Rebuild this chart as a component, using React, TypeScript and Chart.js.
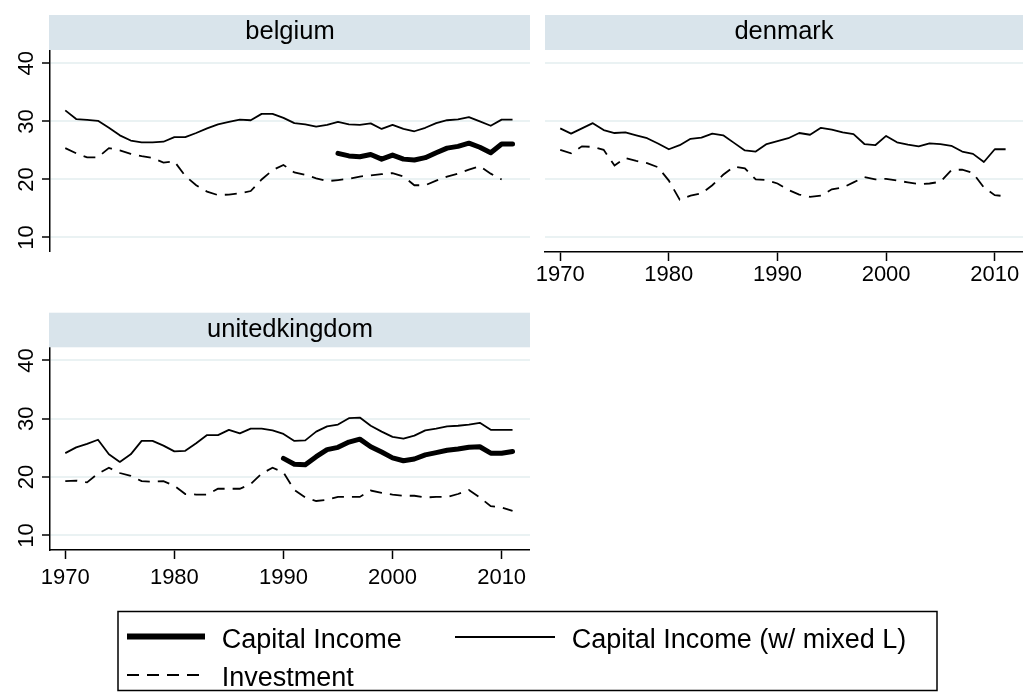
import React, { useEffect, useRef } from "react";
import { Chart, registerables } from "chart.js";

Chart.register(...registerables);

// ---------- data ----------
const years = [
  1970, 1971, 1972, 1973, 1974, 1975, 1976, 1977, 1978, 1979,
  1980, 1981, 1982, 1983, 1984, 1985, 1986, 1987, 1988, 1989,
  1990, 1991, 1992, 1993, 1994, 1995, 1996, 1997, 1998, 1999,
  2000, 2001, 2002, 2003, 2004, 2005, 2006, 2007, 2008, 2009,
  2010, 2011,
];
const yTicks = [10, 20, 30, 40];
const xTicks = [1970, 1980, 1990, 2000, 2010];
const panelNames = ["belgium", "denmark", "unitedkingdom"];
const legendLabels = ["Capital Income", "Capital Income (w/ mixed L)", "Investment"];

const belgiumMixed = [
  31.9, 30.4, 30.25, 30.1, 28.9, 27.6, 26.7, 26.4, 26.4, 26.5,
  27.3, 27.3, 28.0, 28.8, 29.5, 29.9, 30.3, 30.2, 31.3, 31.3,
  30.6, 29.7, 29.5, 29.1, 29.4, 29.9, 29.5, 29.4, 29.65, 28.7,
  29.4, 28.7, 28.3, 28.9, 29.7, 30.2, 30.35, 30.75, 30.0, 29.25,
  30.3, 30.3,
];
const belgiumInvest = [
  25.4, 24.5, 23.8, 23.8, 25.4, 25.0, 24.4, 24.0, 23.7, 22.9,
  23.1, 20.6, 19.0, 17.9, 17.3, 17.4, 17.6, 18.0, 20.0, 21.6,
  22.5, 21.2, 20.8, 20.2, 19.7, 19.9, 20.1, 20.5, 20.7, 20.9,
  21.1, 20.5, 19.0, 19.0, 19.8, 20.5, 21.0, 21.7, 22.3, 21.0,
  20.0,
];
const belgiumCapitalStart = 1995;
const belgiumCapital = [
  24.5, 24.05, 23.9, 24.3, 23.5, 24.2, 23.5, 23.35, 23.75, 24.6,
  25.4, 25.7, 26.25, 25.55, 24.6, 26.1, 26.1,
];

const denmarkMixed = [
  28.8, 27.9, 28.8, 29.7, 28.5, 28.0, 28.1, 27.6, 27.1, 26.2,
  25.2, 25.9, 27.0, 27.2, 27.9, 27.6, 26.3, 25.0, 24.8, 26.1,
  26.6, 27.1, 28.0, 27.7, 28.9, 28.6, 28.1, 27.8, 26.1, 25.9,
  27.5, 26.4, 26.0, 25.7, 26.2, 26.1, 25.8, 24.8, 24.4, 23.0,
  25.2, 25.2,
];
const denmarkInvest = [
  25.1, 24.5, 25.7, 25.6, 25.1, 22.4, 23.7, 23.2, 22.8, 22.1,
  19.8, 16.5, 17.2, 17.6, 19.0, 20.8, 22.2, 21.9, 20.0, 19.9,
  19.3, 18.2, 17.4, 17.0, 17.2, 18.3, 18.6, 19.5, 20.4, 20.0,
  20.1, 19.8, 19.5, 19.2, 19.3, 19.6, 21.6, 21.7, 21.1, 18.6,
  17.3, 17.1,
];

const ukMixed = [
  24.1, 25.1, 25.7, 26.4, 23.9, 22.6, 23.9, 26.2, 26.2, 25.4,
  24.4, 24.5, 25.8, 27.2, 27.2, 28.1, 27.5, 28.3, 28.3, 28.0,
  27.4, 26.2, 26.3, 27.8, 28.7, 29.0, 30.1, 30.2, 28.8, 27.8,
  26.9, 26.6, 27.1, 28.0, 28.3, 28.7, 28.8, 29.0, 29.3, 28.1,
  28.1, 28.1,
];
const ukInvest = [
  19.3, 19.4, 19.1, 20.6, 21.6, 20.7, 20.2, 19.3, 19.2, 19.3,
  18.5, 17.1, 17.0, 17.0, 18.0, 18.0, 18.0, 18.8, 20.6, 21.6,
  20.8, 17.8, 16.5, 15.9, 16.1, 16.6, 16.6, 16.6, 17.7, 17.3,
  17.0, 16.8, 16.8, 16.5, 16.6, 16.6, 17.1, 17.8, 16.5, 15.0,
  14.8, 14.2,
];
const ukCapitalStart = 1990;
const ukCapital = [
  23.2, 22.2, 22.1, 23.5, 24.7, 25.1, 26.0, 26.5, 25.2, 24.3,
  23.3, 22.8, 23.1, 23.8, 24.2, 24.6, 24.8, 25.1, 25.2, 24.1,
  24.1, 24.4,
];

// ---------- styling ----------
const FONT = '"Liberation Sans", Arial, Helvetica, sans-serif';
const GRID = "rgb(234,242,243)";
const STRIP = "rgb(217,228,235)";
const X_MIN = 1968.6;
const X_MAX = 2012.6;
const Y_MIN = 7.5;
const Y_MAX = 42.3;
const TICK_FONT = 22;
const DASH = [12, 8];

function pts(values: number[], startYear: number) {
  const i0 = years.indexOf(startYear);
  return values.map((v, i) => ({ x: years[i0 + i], y: v }));
}

type Series = { capital?: number[]; capitalStart?: number; mixed: number[]; invest: number[] };
type Lay = {
  padLeft: number;
  yAxisW: number;
  xAxisH: number;
  showY: boolean;
  showX: boolean;
  yLabelX: number;
  xLabelOffset: number;
};

function buildChart(canvas: HTMLCanvasElement, s: Series, lay: Lay) {
  const datasets: any[] = [];
  if (s.capital) {
    datasets.push({
      label: legendLabels[0],
      data: pts(s.capital, s.capitalStart as number),
      borderColor: "#000",
      borderWidth: 5,
      pointRadius: 0,
      borderJoinStyle: "round",
      borderCapStyle: "round",
      tension: 0,
    });
  }
  datasets.push({
    label: legendLabels[1],
    data: pts(s.mixed, 1970),
    borderColor: "#000",
    borderWidth: 1.8,
    pointRadius: 0,
    borderJoinStyle: "round",
    tension: 0,
  });
  datasets.push({
    label: legendLabels[2],
    data: pts(s.invest, 1970),
    borderColor: "#000",
    borderWidth: 1.8,
    borderDash: DASH,
    pointRadius: 0,
    tension: 0,
  });

  const labelPlugin = {
    id: "stataTickLabels",
    afterDraw(chart: any) {
      const ctx = chart.ctx;
      ctx.save();
      ctx.fillStyle = "#000";
      ctx.font = `${TICK_FONT}px ${FONT}`;
      const capH = TICK_FONT * 0.716;
      if (lay.showY) {
        const ys = chart.scales.y;
        yTicks.forEach((v) => {
          const py = ys.getPixelForValue(v);
          ctx.save();
          ctx.translate(lay.yLabelX, py);
          ctx.rotate(-Math.PI / 2);
          ctx.textAlign = "center";
          ctx.textBaseline = "alphabetic";
          ctx.fillText(String(v), 0, capH / 2);
          ctx.restore();
        });
      }
      if (lay.showX) {
        const xs = chart.scales.x;
        const base = chart.chartArea.bottom + lay.xLabelOffset;
        xTicks.forEach((v) => {
          const px = xs.getPixelForValue(v);
          ctx.textAlign = "center";
          ctx.textBaseline = "alphabetic";
          ctx.fillText(String(v), px, base);
        });
      }
      ctx.restore();
    },
  };

  return new Chart(canvas, {
    type: "line",
    data: { datasets },
    options: {
      responsive: false,
      maintainAspectRatio: false,
      animation: false,
      events: [],
      layout: { padding: { left: lay.padLeft, right: 0, top: 0, bottom: 0 } },
      plugins: { legend: { display: false }, tooltip: { enabled: false }, title: { display: false } },
      scales: {
        x: {
          type: "linear",
          min: X_MIN,
          max: X_MAX,
          display: lay.showX,
          afterBuildTicks: (sc: any) => {
            sc.ticks = xTicks.map((v) => ({ value: v }));
          },
          afterFit: (sc: any) => {
            sc.height = lay.xAxisH;
          },
          grid: { drawOnChartArea: false, drawTicks: true, tickLength: 9, tickColor: "#000", tickWidth: 1.5, color: "#000" },
          border: { display: true, color: "#000", width: 1.5 },
          ticks: { display: false },
        },
        y: {
          type: "linear",
          min: Y_MIN,
          max: Y_MAX,
          position: "left",
          afterBuildTicks: (sc: any) => {
            sc.ticks = yTicks.map((v) => ({ value: v }));
          },
          afterFit: (sc: any) => {
            sc.width = lay.yAxisW;
          },
          grid: {
            color: GRID,
            lineWidth: 2,
            drawTicks: lay.showY,
            tickLength: 8,
            tickColor: "#000",
            tickWidth: 1.5,
          },
          border: { display: lay.showY, color: "#000", width: 1.5 },
          ticks: { display: false },
        },
      },
    } as any,
    plugins: [labelPlugin],
  });
}

export default function App() {
  const rB = useRef<HTMLCanvasElement>(null);
  const rD = useRef<HTMLCanvasElement>(null);
  const rU = useRef<HTMLCanvasElement>(null);

  useEffect(() => {
    const charts = [
      buildChart(
        rB.current as HTMLCanvasElement,
        { capital: belgiumCapital, capitalStart: belgiumCapitalStart, mixed: belgiumMixed, invest: belgiumInvest },
        { padLeft: 0, yAxisW: 50, xAxisH: 0, showY: true, showX: false, yLabelX: 25, xLabelOffset: 0 }
      ),
      buildChart(
        rD.current as HTMLCanvasElement,
        { mixed: denmarkMixed, invest: denmarkInvest },
        { padLeft: 20, yAxisW: 0, xAxisH: 48, showY: false, showX: true, yLabelX: 0, xLabelOffset: 29 }
      ),
      buildChart(
        rU.current as HTMLCanvasElement,
        { capital: ukCapital, capitalStart: ukCapitalStart, mixed: ukMixed, invest: ukInvest },
        { padLeft: 0, yAxisW: 50, xAxisH: 48, showY: true, showX: true, yLabelX: 25, xLabelOffset: 34 }
      ),
    ];
    return () => charts.forEach((c) => c.destroy());
  }, []);

  const abs = (l: number, t: number, w: number, h: number): React.CSSProperties => ({
    position: "absolute",
    left: l,
    top: t,
    width: w,
    height: h,
  });

  return (
    <div style={{ position: "absolute", left: 0, top: 0, width: 1027, height: 696, background: "#fff", overflow: "hidden" }}>
      <canvas ref={rB} width={530} height={202} style={abs(0, 50, 530, 202)} />
      <canvas ref={rD} width={498} height={250} style={abs(525, 50, 498, 250)} />
      <canvas ref={rU} width={530} height={251} style={abs(0, 347, 530, 251)} />
      <svg width={1027} height={696} style={{ position: "absolute", left: 0, top: 0, pointerEvents: "none" }}>
        <g fontFamily={FONT} fill="#000">
          <rect x={49} y={15} width={481} height={35} fill={STRIP} />
          <text x={290} y={39.3} fontSize={25.5} textAnchor="middle">{panelNames[0]}</text>
          <rect x={545} y={15} width={478} height={35} fill={STRIP} />
          <text x={784} y={39.3} fontSize={25.5} textAnchor="middle">{panelNames[1]}</text>
          <rect x={49} y={312.7} width={481} height={34.6} fill={STRIP} />
          <text x={290} y={337} fontSize={25.5} textAnchor="middle">{panelNames[2]}</text>

          <rect x={118} y={611.5} width={819} height={79} fill="none" stroke="#000" strokeWidth={1.5} />
          <line x1={127} x2={205} y1={636.5} y2={636.5} stroke="#000" strokeWidth={6} />
          <text x={221.7} y={648.3} fontSize={27}>{legendLabels[0]}</text>
          <line x1={455} x2={555} y1={637} y2={637} stroke="#000" strokeWidth={1.8} />
          <text x={571.7} y={648.3} fontSize={27}>{legendLabels[1]}</text>
          <line x1={127} x2={205} y1={675} y2={675} stroke="#000" strokeWidth={1.8} strokeDasharray="12 8" />
          <text x={221.7} y={686} fontSize={27}>{legendLabels[2]}</text>
        </g>
      </svg>
    </div>
  );
}
